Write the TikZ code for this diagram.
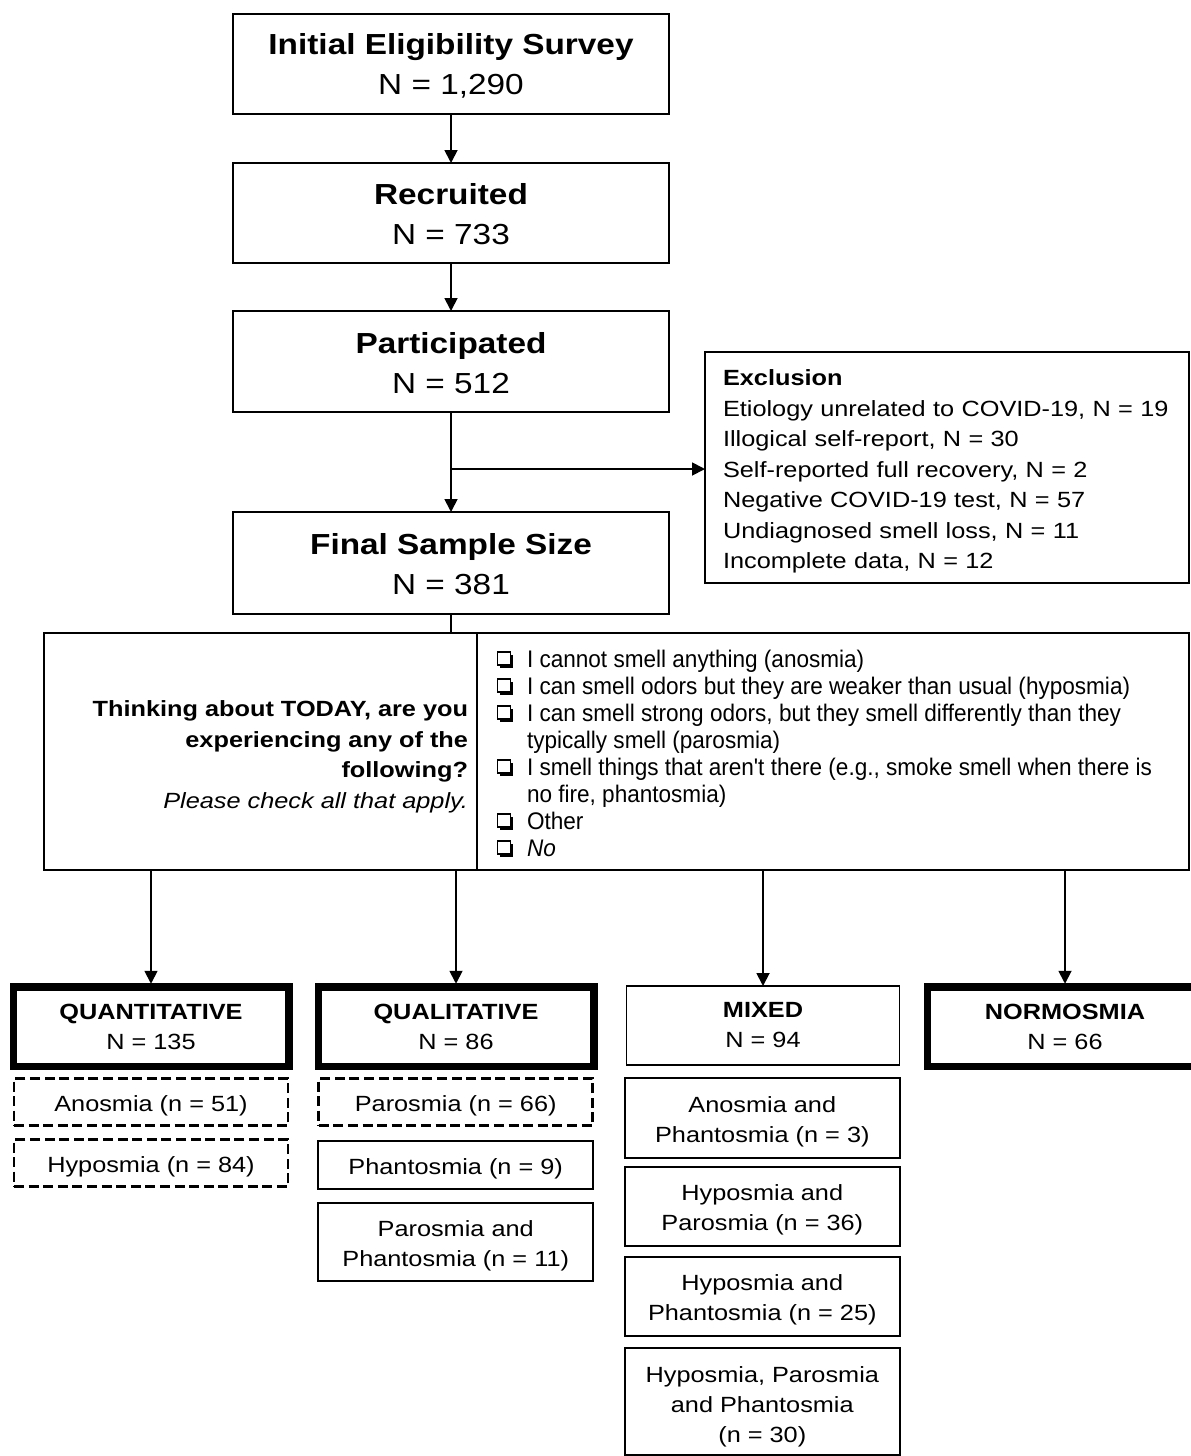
\documentclass[tikz,border=0pt]{standalone}
\usepackage{fontspec}
\setmainfont{Liberation Sans}[FakeStretch=1.15]
\newfontfamily\narrowf{Liberation Sans}[FakeStretch=0.94]
\usetikzlibrary{arrows.meta}
\newcommand\bst{\rule{0pt}{24pt}}
\newcommand\sst{\rule{0pt}{23.5pt}}
\begin{document}
\begin{tikzpicture}[x=1pt,y=-1pt,
  every node/.style={inner sep=0pt, outer sep=0pt},
  box/.style={draw, line width=1.8pt, align=center},
  thickbox/.style={draw, line width=7.5pt, align=center},
  dashbox/.style={draw, line width=2.8pt, dash pattern=on 10pt off 4.6pt, align=center},
  big/.style={font=\fontsize{29}{40}\selectfont},
  med/.style={font=\fontsize{22}{30.5}\selectfont},
  sub/.style={font=\fontsize{22}{30}\selectfont},
  itm/.style={font=\narrowf\fontsize{24}{27}\selectfont, anchor=base west},
  arr/.style={line width=1.8pt, -{Triangle[width=13pt,length=13pt]}},
  ln/.style={line width=1.8pt},
  chk/.pic={\fill (2.5,2.5) rectangle (15.5,15.5);
            \filldraw[fill=white, line width=1.2pt] (0,0) rectangle (13,13);}
]
\clip (0,0) rectangle (1191,1456);
\fill[white] (0,0) rectangle (1191,1456);

% main column
\node[box, big, minimum width=436pt, minimum height=100pt] (b1) at (451,64) {\bst\textbf{Initial Eligibility Survey}\\N = 1,290};
\node[box, big, minimum width=436pt, minimum height=100pt] (b2) at (451,213) {\bst\textbf{Recruited}\\N = 733};
\node[box, big, minimum width=436pt, minimum height=101pt] (b3) at (451,361.5) {\bst\textbf{Participated}\\N = 512};
\node[box, big, minimum width=436pt, minimum height=102pt] (b4) at (451,563) {\bst\textbf{Final Sample Size}\\N = 381};

\draw[arr] (b1) -- (b2);
\draw[arr] (b2) -- (b3);
\draw[arr] (b3) -- (b4);

% exclusion
\node[box, med, minimum width=484pt, minimum height=231pt, text width=448pt, inner xsep=18pt, align=left] (ex) at (947,467.5)
 {\rule{0pt}{24pt}\textbf{Exclusion}\\Etiology unrelated to COVID-19, N = 19\\Illogical self-report, N = 30\\Self-reported full recovery, N = 2\\Negative COVID-19 test, N = 57\\Undiagnosed smell loss, N = 11\\Incomplete data, N = 12};
\coordinate (br) at (451,469);
\draw[arr] (br) -- (br -| ex.west);

% question
\node[box, minimum width=433pt, minimum height=237pt] (ql) at (260.5,751.5) {};
\node[box, minimum width=712pt, minimum height=237pt] (qr) at (833,751.5) {};
\draw[ln] (b4) -- (b4 |- ql.north);
\node[med, align=right, anchor=east] (qlt) at (468,757) {\textbf{Thinking about TODAY, are you}\\\textbf{experiencing any of the}\\\textbf{following?}\\\textit{Please check all that apply.}};

\pic at (497.5,652) {chk};
\pic at (497.5,679) {chk};
\pic at (497.5,706) {chk};
\pic at (497.5,760) {chk};
\pic at (497.5,814) {chk};
\pic at (497.5,841) {chk};
\node[itm] (i1) at (527,667) {I cannot smell anything (anosmia)};
\node[itm] (i2) at (527,694) {I can smell odors but they are weaker than usual (hyposmia)};
\node[itm] (i3) at (527,721) {I can smell strong odors, but they smell differently than they};
\node[itm] (i3b) at (527,748) {typically smell (parosmia)};
\node[itm] (i4) at (527,775) {I smell things that aren't there (e.g., smoke smell when there is};
\node[itm] (i4b) at (527,802) {no fire, phantosmia)};
\node[itm] (i5) at (527,829) {Other};
\node[itm] (i6) at (527,856) {\textit{No}};

% categories
\node[thickbox, sub, minimum width=275.5pt, minimum height=79.5pt] (quant) at (151,1026.5) {\textbf{QUANTITATIVE}\\N = 135};
\node[thickbox, sub, minimum width=275.5pt, minimum height=79.5pt] (qual) at (456,1026.5) {\textbf{QUALITATIVE}\\N = 86};
\node[box, sub, minimum width=273pt, minimum height=79pt] (mix) at (763,1025.5) {\textbf{MIXED}\\N = 94};
\node[thickbox, sub, minimum width=275.5pt, minimum height=79.5pt] (norm) at (1065,1026.5) {\textbf{NORMOSMIA}\\N = 66};

\draw[arr, shorten >=3pt] (quant |- ql.south) -- (quant.north);
\draw[arr, shorten >=3pt] (qual |- ql.south) -- (qual.north);
\draw[arr] (mix |- qr.south) -- (mix.north);
\draw[arr, shorten >=3pt] (norm |- qr.south) -- (norm.north);

% quantitative subs
\node[dashbox, sub, minimum width=274pt, minimum height=47.4pt] (ano) at (151,1102) {\sst Anosmia (n = 51)};
\node[dashbox, sub, minimum width=274pt, minimum height=47.4pt] (hypo) at (151,1163) {\sst Hyposmia (n = 84)};

% qualitative subs
\node[dashbox, sub, minimum width=274pt, minimum height=47.4pt] (par) at (455.7,1102) {\sst Parosmia (n = 66)};
\node[box, sub, minimum width=275pt, minimum height=48pt] (phan) at (455.7,1165) {\sst Phantosmia (n = 9)};
\node[box, sub, minimum width=275pt, minimum height=78pt] (parphan) at (455.7,1241.7) {\sst Parosmia and\\Phantosmia (n = 11)};

% mixed subs
\node[box, sub, minimum width=275pt, minimum height=80pt] (m1) at (762.3,1118) {\sst Anosmia and\\Phantosmia (n = 3)};
\node[box, sub, minimum width=275pt, minimum height=79pt] (m2) at (762.3,1206.3) {\sst Hyposmia and\\Parosmia (n = 36)};
\node[box, sub, minimum width=275pt, minimum height=79pt] (m3) at (762.3,1296.3) {\sst Hyposmia and\\Phantosmia (n = 25)};
\node[box, sub, minimum width=275pt, minimum height=107pt] (m4) at (762.3,1401.5) {\rule{0pt}{26pt}Hyposmia, Parosmia\\and Phantosmia\\(n = 30)};
\end{tikzpicture}
\end{document}
